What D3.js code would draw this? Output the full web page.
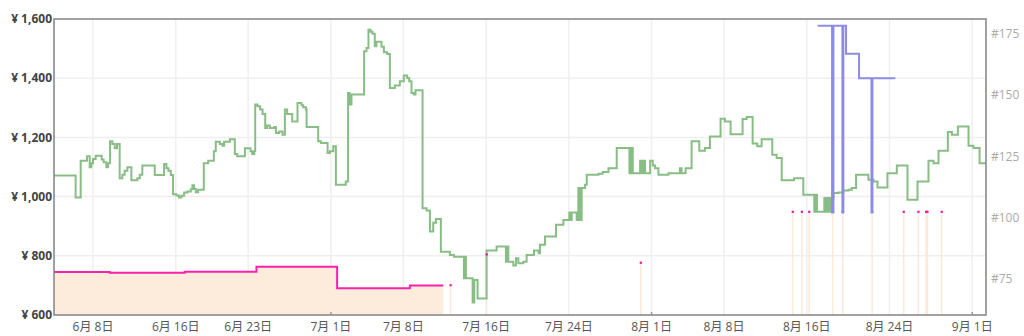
<!DOCTYPE html>
<html>
<head>
<meta charset="utf-8">
<script src="https://cdn.jsdelivr.net/npm/d3@7"></script>
<style>
  body { margin: 0; background: #fff; }
  text { font-family: "Open Sans", "Noto Sans CJK JP", sans-serif; }
</style>
</head>
<body>
<div class="usable"></div>
<script>
// days are counted from June 1 00:00
const startDay = new Date(2023, 5, 1)
const viewDays = [3.23, 93.33]

const priceTicks = [600, 800, 1000, 1200, 1400, 1600]
const rankTicks = [75, 100, 125, 150, 175]
const rankDomain = [60.07, 181.23]
const dateTicks = ["2023-06-08", "2023-06-16", "2023-06-23", "2023-07-01", "2023-07-08", "2023-07-16",
    "2023-07-24", "2023-08-01", "2023-08-08", "2023-08-16", "2023-08-24", "2023-09-01"]

// green step price [day, yen]
const greenPrice = [
    [3.23,1071],[5.32,997],[5.81,1121],[6.42,1136],[6.68,1099],[6.84,1113],[7.0,1127],[7.26,1138],
    [7.84,1125],[8.03,1116],[8.29,1099],[8.45,1113],[8.65,1187],[8.87,1178],[9.10,1163],[9.32,1178],
    [9.58,1062],[9.84,1074],[10.06,1087],[10.32,1099],[10.71,1055],[11.29,1062],[11.52,1074],[11.77,1105],
    [12.97,1073],[13.87,1110],[14.10,1096],[14.29,1087],[14.52,1073],[14.74,1008],[15.06,1004],[15.32,997],
    [15.55,1003],[15.81,1014],[16.13,1017],[16.45,1025],[16.61,1038],[16.77,1026],[16.94,1015],[17.16,1023],
    [17.71,1113],[18.13,1121],[18.68,1153],[18.87,1185],[19.26,1178],[19.52,1172],[19.68,1185],[20.23,1194],
    [20.71,1144],[20.94,1136],[21.68,1163],[22.23,1153],[22.39,1144],[22.58,1153],[22.68,1311],[22.90,1305],
    [23.16,1294],[23.39,1279],[23.65,1232],[23.84,1240],[24.10,1232],[24.52,1235],[24.68,1215],[25.00,1220],
    [25.32,1209],[25.55,1294],[25.77,1279],[26.26,1254],[26.77,1316],[27.16,1309],[27.32,1302],[27.58,1294],
    [27.65,1235],[28.77,1187],[29.03,1181],[29.68,1147],[29.90,1153],[30.23,1170],[30.48,1040],[31.44,1051],
    [31.66,1350],[31.82,1311],[31.99,1345],[33.21,1491],[33.44,1502],[33.63,1564],[33.83,1557],[34.02,1550],
    [34.24,1508],[34.40,1523],[34.89,1506],[35.12,1488],[35.44,1482],[35.70,1367],[36.18,1375],[36.66,1390],
    [37.05,1409],[37.37,1401],[37.57,1390],[37.79,1350],[38.02,1345],[38.18,1359],[38.86,961],[39.24,953],
    [39.57,882],[39.89,912],[40.15,924],[40.63,814],[41.50,803],[41.89,797],[42.86,724],[42.95,797],
    [43.05,724],[43.70,642],[43.86,718],[44.18,656],[45.05,818],[46.02,831],[46.92,780],[47.05,831],
    [47.15,780],[47.63,767],[47.89,792],[48.12,775],[48.60,780],[48.92,803],[49.63,818],[50.08,809],
    [50.21,837],[50.70,865],[51.76,905],[52.47,921],[53.05,946],[53.18,921],[53.28,946],[53.76,921],
    [53.92,1029],[54.08,921],[54.24,1029],[54.57,1040],[54.73,1074],[55.86,1077],[56.28,1083],[56.83,1096],
    [57.63,1164],[58.86,1079],[59.02,1164],[59.18,1079],[59.89,1121],[60.05,1079],[60.21,1121],[60.37,1079],
    [60.86,1121],[61.12,1105],[61.34,1096],[61.66,1074],[62.63,1079],[63.74,1096],[63.90,1079],[64.29,1096],
    [64.87,1187],[65.61,1155],[66.16,1164],[66.64,1203],[67.67,1263],[68.09,1254],[68.64,1211],[69.80,1262],
    [70.19,1269],[70.77,1179],[71.22,1170],[71.64,1194],[72.67,1141],[73.09,1130],[73.58,1055],[74.77,1062],
    [75.67,1006],[76.73,949],[76.86,1006],[76.99,949],[77.70,995],[77.80,949],[77.93,995],[78.03,949],
    [78.16,995],[78.25,949],[78.35,995],[78.58,1012],[79.06,1014],[79.54,1021],[80.03,1023],[80.35,1029],
    [80.77,1074],[81.96,1057],[82.45,1051],[82.84,1031],[83.80,1079],[84.71,1105],[85.74,989],[86.71,1051],
    [87.77,1121],[88.26,1113],[88.74,1155],[89.64,1218],[90.03,1209],[90.61,1237],[91.64,1172],[92.12,1164],
    [92.71,1113]
]

// pink price with filled area, then single spots
const amazonPrice = [[3.23,745],[8.61,743],[15.87,746],[22.80,763],[30.60,690],[37.63,700],[40.86,700]]
const amazonSpots = [[41.56,701],[45.05,805],[59.95,777],[74.64,949],[75.52,949],[76.23,949],[78.50,949],
    [79.47,949],[82.32,949],[85.37,949],[86.79,949],[87.53,949],[87.66,949],[89.04,949]]

// blue rank line [day, rank]
const salesRank = [[77.06,178.5],[78.45,102],[78.58,178.5],[79.45,102],[79.54,178.5],[79.80,167],
    [81.06,157],[82.26,102],[82.35,157],[84.56,157]]

const W = 1024, H = 336
const margin = {top: 19, right: 38, bottom: 21, left: 54}

const toDate = d => new Date(startDay.getTime() + d * 864e5)
const parseDay = d3.timeParse("%Y-%m-%d")

let svg = d3.select(".usable").append("svg")
    .attr("width", W)
    .attr("height", H)

const x = d3.scaleTime()
    .domain(viewDays.map(toDate))
    .range([margin.left, W - margin.right])
const y = d3.scaleLinear()
    .domain(d3.extent(priceTicks))
    .range([H - margin.bottom, margin.top])
const yRank = d3.scaleLinear()
    .domain(rankDomain)
    .range([H - margin.bottom, margin.top])

const bottom = H - margin.bottom

// grid
let grid = svg.append("g")
grid.selectAll("line.v").data(dateTicks).join("line")
    .attr("x1", d => x(parseDay(d))).attr("x2", d => x(parseDay(d)))
    .attr("y1", margin.top).attr("y2", bottom)
    .style("stroke", "#efefef").style("stroke-width", 1.5)
grid.selectAll("line.h").data(priceTicks.slice(1, -1)).join("line")
    .attr("x1", margin.left).attr("x2", W - margin.right)
    .attr("y1", d => y(d)).attr("y2", d => y(d))
    .style("stroke", d => d === 1000 ? "#f8e9ed" : "#efefef").style("stroke-width", 1.5)

// amazon area + line
let area = d3.area().curve(d3.curveStepAfter)
    .x(d => x(toDate(d[0]))).y0(bottom).y1(d => y(d[1]))
let line = d3.line().curve(d3.curveStepAfter)
    .x(d => x(toDate(d[0]))).y(d => y(d[1]))

svg.append("path").datum(amazonPrice)
    .attr("d", area)
    .style("fill", "#fdebdb")

svg.selectAll("rect.spot").data(amazonSpots).join("rect")
    .attr("x", d => x(toDate(d[0])) - 0.75)
    .attr("y", d => y(d[1]))
    .attr("width", 1.5)
    .attr("height", d => bottom - y(d[1]))
    .style("fill", "#fde9d9")

// green
let green = greenPrice.concat([[viewDays[1], greenPrice[greenPrice.length - 1][1]]])
svg.append("path").datum(green)
    .attr("d", line)
    .style("fill", "none")
    .style("stroke", "#88bd86")
    .style("stroke-width", 2)

svg.append("path").datum(amazonPrice)
    .attr("d", line)
    .style("fill", "none")
    .style("stroke", "#fb22a9")
    .style("stroke-width", 2)

svg.selectAll("rect.dot").data(amazonSpots).join("rect")
    .attr("x", d => x(toDate(d[0])) - 1)
    .attr("y", d => y(d[1]) - 1)
    .attr("width", 2.2)
    .attr("height", 2.2)
    .style("fill", "#f414a0")

// rank
let rankLine = d3.line().curve(d3.curveStepAfter)
    .x(d => x(toDate(d[0]))).y(d => yRank(d[1]))
svg.append("path").datum(salesRank)
    .attr("d", rankLine)
    .style("fill", "none")
    .style("stroke", "#8c8ce6")
    .style("stroke-width", 2)

// frame
svg.append("rect")
    .attr("x", margin.left).attr("y", margin.top)
    .attr("width", W - margin.left - margin.right)
    .attr("height", bottom - margin.top)
    .style("fill", "none")
    .style("stroke", "#8a8a8a")
    .style("stroke-width", 1.6)

// month start marks
svg.selectAll("line.m").data(dateTicks.filter(d => d.endsWith("-01"))).join("line")
    .attr("x1", d => x(parseDay(d))).attr("x2", d => x(parseDay(d)))
    .attr("y1", bottom).attr("y2", bottom - 3)
    .style("stroke", "#999").style("stroke-width", 1.5)

// labels
const fmtPrice = d3.format(",")
svg.selectAll("text.p").data(priceTicks).join("text")
    .text(d => "¥ " + fmtPrice(d))
    .attr("x", margin.left - 2)
    .attr("y", d => y(d))
    .attr("dy", "0.35em")
    .attr("text-anchor", "end")
    .style("font-size", "12px")
    .style("font-weight", "bold")
    .style("fill", "#444")

svg.selectAll("text.r").data(rankTicks).join("text")
    .text(d => "#" + d)
    .attr("x", W - margin.right + 5)
    .attr("y", d => yRank(d))
    .attr("dy", "0.35em")
    .style("font-size", "12px")
    .style("fill", "#aaa")

const fmtDate = d3.timeFormat("%-m月 %-d日")
svg.selectAll("text.d").data(dateTicks).join("text")
    .text(d => fmtDate(parseDay(d)))
    .attr("x", d => x(parseDay(d)))
    .attr("y", bottom + 12)
    .attr("dy", "0.35em")
    .attr("text-anchor", "middle")
    .style("font-size", "12px")
    .style("fill", "#555")
</script>
</body>
</html>
